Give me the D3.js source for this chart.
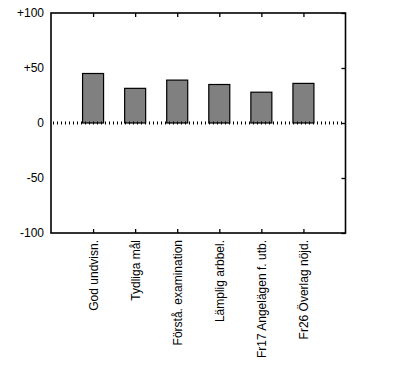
<!DOCTYPE html>
<html><head><meta charset="utf-8">
<script src="https://cdn.jsdelivr.net/npm/d3@7"></script>
<style>body{margin:0;background:#fff;} svg{display:block;} text{font-family:"Liberation Sans",Arial,sans-serif;}</style>
</head><body>
<script>
const categories = ["God undvisn.", "Tydliga mål", "Förstå. examination", "Lämplig arbbel.", "Fr17 Angelägen f. utb.", "Fr26 Överlag nöjd."];
const values = [45, 31.5, 39, 35, 28, 36];
const yTicks = [100, 50, 0, -50, -100];
const yTickLabels = ["+100", "+50", "0", "-50", "-100"];

(function () {
const W = 395, H = 366;
const pLeft = 51, pRight = 345.5, pTop = 13, pBottom = 233;
const svg = d3.select("body").append("svg").attr("width", W).attr("height", H);

const x = d3.scaleLinear().domain([0, categories.length + 1]).range([pLeft, pRight]);
const y = d3.scaleLinear().domain([-100, 100]).range([pBottom, pTop]);

// bars
svg.selectAll("rect.bar").data(values).enter().append("rect")
  .attr("class", "bar")
  .attr("x", (d, i) => x(i + 1) - 10.5)
  .attr("width", 21)
  .attr("y", d => y(Math.max(0, d)))
  .attr("height", d => Math.abs(y(d) - y(0)))
  .attr("fill", "#808080").attr("stroke", "#000").attr("stroke-width", 1.2);

// zero dotted line
svg.append("line").attr("x1", pLeft + 2).attr("x2", pRight).attr("y1", y(0)).attr("y2", y(0))
  .attr("stroke", "#000").attr("stroke-width", 3).attr("stroke-dasharray", "1,3");

// frame
svg.append("rect").attr("x", pLeft).attr("y", pTop).attr("width", pRight - pLeft).attr("height", pBottom - pTop)
  .attr("fill", "none").attr("stroke", "#000").attr("stroke-width", 1.6);

// top & bottom ticks
const cats = categories.map((c, i) => i + 1);
svg.append("g").attr("transform", `translate(0,${pTop})`)
  .call(d3.axisTop(x).tickValues(cats).tickSize(-4).tickFormat(""))
  .call(g => g.select(".domain").remove())
  .call(g => g.selectAll("line").attr("stroke-width", 1.3));
const bottomAxis = svg.append("g").attr("transform", `translate(0,${pBottom})`)
  .call(d3.axisBottom(x).tickValues(cats).tickSize(-4).tickFormat((d) => categories[d - 1]))
  .call(g => g.select(".domain").remove())
  .call(g => g.selectAll("line").attr("stroke-width", 1.3));
bottomAxis.selectAll("text")
  .attr("font-size", 12).attr("fill", "#000")
  .attr("transform", "rotate(-90)")
  .attr("text-anchor", "end")
  .attr("x", -7).attr("y", 0).attr("dy", "0.35em");

// right ticks
svg.append("g").attr("transform", `translate(${pRight},0)`)
  .call(d3.axisLeft(y).tickValues(yTicks).tickSize(4).tickFormat(""))
  .call(g => g.select(".domain").remove())
  .call(g => g.selectAll("line").attr("stroke-width", 1.3));

// left labels
svg.append("g").attr("transform", `translate(${pLeft},0)`)
  .call(d3.axisLeft(y).tickValues(yTicks).tickSize(0).tickPadding(7).tickFormat((d, i) => yTickLabels[i]))
  .call(g => g.select(".domain").remove())
  .call(g => g.selectAll("text").attr("font-size", 12).attr("fill", "#000"));
})();
</script>
</body></html>
